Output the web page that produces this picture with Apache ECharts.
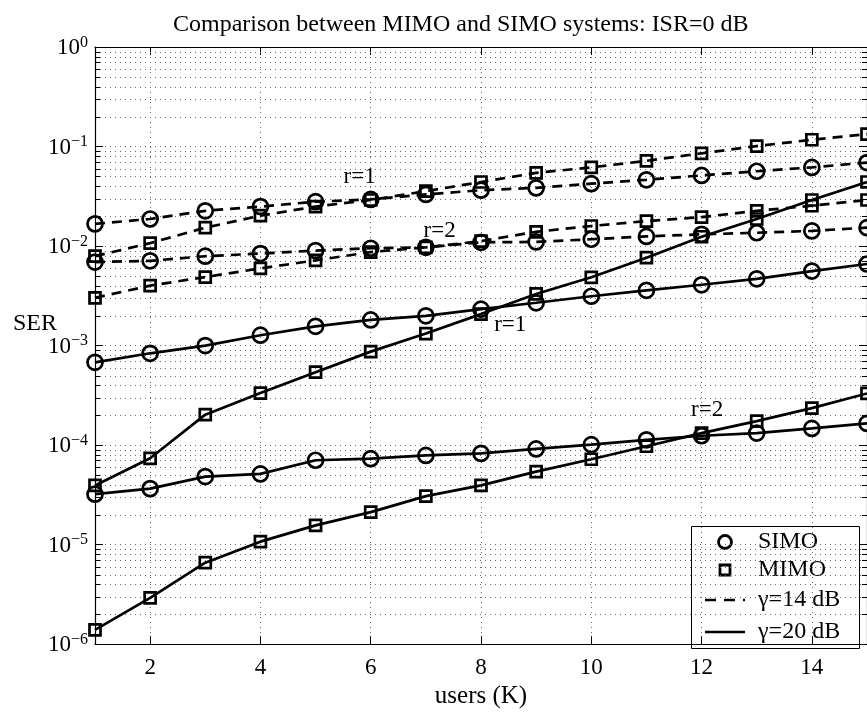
<!DOCTYPE html>
<html>
<head>
<meta charset="utf-8">
<script src="https://cdn.jsdelivr.net/npm/echarts@6/dist/echarts.min.js"></script>
<style>
  html, body { margin: 0; padding: 0; background: #fff; }
  #chart { width: 867px; height: 714px; }
</style>
</head>
<body>
<div id="chart"></div>
<script>
// Number of users K on the horizontal axis
const users = [1, 2, 3, 4, 5, 6, 7, 8, 9, 10, 11, 12, 13, 14, 15];
const xTickValues = [2, 4, 6, 8, 10, 12, 14];

// Symbol error rate, gamma = 14 dB
const simoG14R1 = [0.0167, 0.0187, 0.0226, 0.0249, 0.0279, 0.0294, 0.033, 0.0364, 0.0384, 0.0423, 0.0463, 0.0512, 0.0564, 0.0617, 0.069];
const mimoG14R1 = [0.0079, 0.0107, 0.0153, 0.0202, 0.0249, 0.029, 0.0356, 0.044, 0.0543, 0.0617, 0.0718, 0.0855, 0.101, 0.117, 0.133];
const simoG14R2 = [0.0069, 0.0071, 0.0079, 0.0084, 0.0090, 0.0095, 0.0097, 0.0109, 0.0110, 0.0117, 0.0125, 0.0131, 0.0136, 0.0142, 0.0153];
const mimoG14R2 = [0.00302, 0.0040, 0.00488, 0.00596, 0.00718, 0.0087, 0.0097, 0.0112, 0.0139, 0.0159, 0.0178, 0.0195, 0.0226, 0.0254, 0.029];

// Symbol error rate, gamma = 20 dB
const simoG20R1 = [6.78e-4, 8.36e-4, 1.0e-3, 1.27e-3, 1.56e-3, 1.81e-3, 1.99e-3, 2.32e-3, 2.69e-3, 3.13e-3, 3.59e-3, 4.08e-3, 4.68e-3, 5.6e-3, 6.6e-3];
const mimoG20R1 = [3.93e-5, 7.36e-5, 2.02e-4, 3.33e-4, 5.4e-4, 8.69e-4, 1.32e-3, 2.07e-3, 3.3e-3, 4.85e-3, 7.63e-3, 0.0124, 0.0187, 0.029, 0.044];
const simoG20R2 = [3.21e-5, 3.65e-5, 4.82e-5, 5.13e-5, 7.04e-5, 7.3e-5, 7.87e-5, 8.25e-5, 9.15e-5, 1.01e-4, 1.13e-4, 1.24e-4, 1.32e-4, 1.47e-4, 1.65e-4];
const mimoG20R2 = [1.39e-6, 2.91e-6, 6.58e-6, 1.07e-5, 1.56e-5, 2.12e-5, 3.07e-5, 3.93e-5, 5.41e-5, 7.2e-5, 9.73e-5, 1.32e-4, 1.74e-4, 2.35e-4, 3.3e-4];

// Curve annotations (text and anchor in data coordinates)
const noteTexts = ['r=1', 'r=2', 'r=1', 'r=2'];
const noteUsers = [5.8, 7.25, 8.53, 12.1];
const noteSer = [0.0492, 0.0142, 0.00161, 2.25e-4];

const legendTexts = ['SIMO', 'MIMO', '\u03b3=14 dB', '\u03b3=20 dB'];

const FONT = '"Liberation Serif", "Times New Roman", Times, serif';
const DASH = [10, 7];
const GRID_DOT = '#6a6a6a';

// Minor log grid values 2..9 x 10^k
const minorValues = [];
for (let e = -6; e < 0; e++) {
  for (let m = 2; m <= 9; m++) minorValues.push(m * Math.pow(10, e));
}

function curve(name, values, symbol, dashed) {
  return {
    name: name,
    type: 'line',
    data: users.map((u, i) => [u, values[i]]),
    symbol: symbol,
    symbolSize: symbol === 'circle' ? 15 : 11,
    lineStyle: { color: '#000', width: 2.7, type: dashed ? DASH : 'solid' },
    itemStyle: { color: 'rgba(0,0,0,0)', borderColor: '#000', borderWidth: 2.7 },
    z: 3,
    silent: true
  };
}

function decadeLabel(value) {
  const ex = Math.round(Math.log10(value));
  const exText = ex < 0 ? '\u2212' + Math.abs(ex) : String(ex);
  return '{b|10}{e|' + exText + '}';
}

const chart = echarts.init(document.getElementById('chart'), null, { renderer: 'canvas' });

const dotted = { color: GRID_DOT, width: 1, type: [1, 4] };

chart.setOption({
  animation: false,
  backgroundColor: '#fff',
  title: {
    text: 'Comparison between MIMO and SIMO systems: ISR=0 dB',
    left: 168,
    top: 8,
    textStyle: { fontFamily: FONT, fontSize: 24, fontWeight: 'normal', color: '#000' }
  },
  grid: { left: 95, right: -1, top: 47, bottom: 57, containLabel: false },
  xAxis: [{
    type: 'value',
    min: 1,
    max: 15,
    name: 'users (K)',
    nameLocation: 'middle',
    nameGap: 30,
    nameTextStyle: { fontFamily: FONT, fontSize: 25, color: '#000' },
    axisLine: { show: true, onZero: false, lineStyle: { color: '#000', width: 1.2 } },
    axisTick: { show: true, inside: true, length: 8, customValues: xTickValues, lineStyle: { color: '#000' } },
    axisLabel: { customValues: xTickValues, margin: 12, fontFamily: FONT, fontSize: 23, color: '#000' },
    splitLine: { show: true, lineStyle: dotted }
  }, {
    type: 'value',
    position: 'top',
    min: 1,
    max: 15,
    axisLine: { show: true, onZero: false, lineStyle: { color: '#000', width: 1.2 } },
    axisTick: { show: true, inside: true, length: 8, customValues: xTickValues, lineStyle: { color: '#000' } },
    axisLabel: { show: false },
    splitLine: { show: false }
  }],
  yAxis: [{
    type: 'log',
    logBase: 10,
    min: 1e-6,
    max: 1,
    interval: 1,
    splitNumber: 6,
    axisLine: { show: true, onZero: false, lineStyle: { color: '#000', width: 1.2 } },
    axisTick: { show: true, inside: true, length: 8, lineStyle: { color: '#000' } },
    axisLabel: {
      margin: 7,
      formatter: decadeLabel,
      rich: {
        b: { fontFamily: FONT, fontSize: 23, color: '#000', lineHeight: 25, verticalAlign: 'bottom' },
        e: { fontFamily: FONT, fontSize: 16, color: '#000', lineHeight: 13, verticalAlign: 'top' }
      }
    },
    splitLine: { show: true, lineStyle: dotted }
  }, {
    type: 'log',
    logBase: 10,
    min: 1e-6,
    max: 1,
    interval: 1,
    splitNumber: 6,
    position: 'right',
    axisLine: { show: true, onZero: false, lineStyle: { color: '#000', width: 1.2 } },
    axisTick: { show: true, inside: true, length: 8, lineStyle: { color: '#000' } },
    axisLabel: { show: false },
    splitLine: { show: false }
  }],
  series: [
    {
      // minor log grid lines with short inner ticks on both sides
      type: 'custom',
      silent: true,
      z: 1,
      data: minorValues.map(v => [1, v]),
      renderItem: function (params, api) {
        const v = api.value(1);
        const a = api.coord([1, v]);
        const b = api.coord([15, v]);
        const y = Math.round(a[1]) + 0.5;
        return {
          type: 'group',
          children: [
            { type: 'line', shape: { x1: a[0], y1: y, x2: b[0], y2: y }, style: { stroke: GRID_DOT, lineWidth: 1, lineDash: [1, 4] } },
            { type: 'line', shape: { x1: a[0], y1: y, x2: a[0] + 5, y2: y }, style: { stroke: '#000', lineWidth: 1 } },
            { type: 'line', shape: { x1: b[0] - 5, y1: y, x2: b[0], y2: y }, style: { stroke: '#000', lineWidth: 1 } }
          ]
        };
      }
    },
    curve('SIMO \u03b3=14 dB r=1', simoG14R1, 'circle', true),
    curve('MIMO \u03b3=14 dB r=1', mimoG14R1, 'rect', true),
    curve('SIMO \u03b3=14 dB r=2', simoG14R2, 'circle', true),
    curve('MIMO \u03b3=14 dB r=2', mimoG14R2, 'rect', true),
    curve('SIMO \u03b3=20 dB r=1', simoG20R1, 'circle', false),
    curve('MIMO \u03b3=20 dB r=1', mimoG20R1, 'rect', false),
    curve('SIMO \u03b3=20 dB r=2', simoG20R2, 'circle', false),
    curve('MIMO \u03b3=20 dB r=2', mimoG20R2, 'rect', false),
    {
      // r annotations next to the curve groups
      type: 'custom',
      silent: true,
      z: 4,
      data: noteTexts.map((t, i) => [noteUsers[i], noteSer[i], i]),
      renderItem: function (params, api) {
        const p = api.coord([api.value(0), api.value(1)]);
        return {
          type: 'text',
          x: p[0],
          y: p[1],
          style: {
            text: noteTexts[api.value(2)],
            font: '23px ' + FONT,
            fill: '#000',
            textAlign: 'center',
            textVerticalAlign: 'middle'
          }
        };
      }
    }
  ],
  graphic: [
    {
      type: 'text',
      x: 13,
      y: 324,
      style: { text: 'SER', font: '24px ' + FONT, fill: '#000', textAlign: 'left', textVerticalAlign: 'middle' }
    },
    {
      type: 'group',
      z: 100,
      children: [
        { type: 'rect', shape: { x: 691.5, y: 526.5, width: 168, height: 122 }, style: { fill: '#fff', stroke: '#000', lineWidth: 1 } },
        { type: 'circle', shape: { cx: 725, cy: 542, r: 6.5 }, style: { fill: 'none', stroke: '#000', lineWidth: 2.8 } },
        { type: 'rect', shape: { x: 720, y: 565, width: 10, height: 10 }, style: { fill: 'none', stroke: '#000', lineWidth: 2.8 } },
        { type: 'line', shape: { x1: 705, y1: 600, x2: 745, y2: 600 }, style: { stroke: '#000', lineWidth: 2.6, lineDash: [11, 8] } },
        { type: 'line', shape: { x1: 705, y1: 632, x2: 745, y2: 632 }, style: { stroke: '#000', lineWidth: 2.6 } },
        { type: 'text', x: 758, y: 542, style: { text: legendTexts[0], font: '24px ' + FONT, fill: '#000', textVerticalAlign: 'middle' } },
        { type: 'text', x: 758, y: 570, style: { text: legendTexts[1], font: '24px ' + FONT, fill: '#000', textVerticalAlign: 'middle' } },
        { type: 'text', x: 758, y: 600, style: { text: legendTexts[2], font: '24px ' + FONT, fill: '#000', textVerticalAlign: 'middle' } },
        { type: 'text', x: 758, y: 632, style: { text: legendTexts[3], font: '24px ' + FONT, fill: '#000', textVerticalAlign: 'middle' } }
      ]
    }
  ]
});
</script>
</body>
</html>
